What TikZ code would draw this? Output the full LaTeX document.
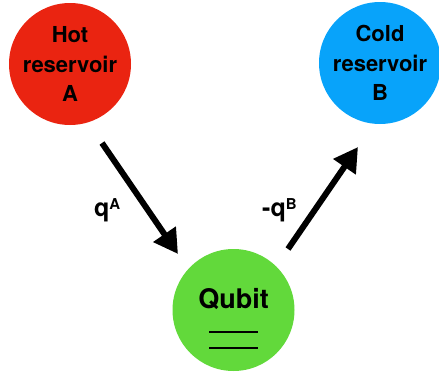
\documentclass[tikz,border=0pt]{standalone}
\usepackage{fontspec}
\setmainfont{TeX Gyre Heros}
\usetikzlibrary{arrows.meta}

\definecolor{hotred}{RGB}{234,36,17}
\definecolor{coldblue}{RGB}{8,163,250}
\definecolor{qubitgreen}{RGB}{98,217,59}

\newcommand{\supsc}[1]{\raisebox{7pt}{\fontsize{15}{15}\selectfont #1}}

\begin{document}
\begin{tikzpicture}[x=1pt,y=-1pt,
  reservoir/.style={circle,minimum size=122pt,inner sep=0pt,align=center,
    font=\fontsize{22}{29.5}\selectfont\bfseries},
  flow/.style={line width=6pt,-{Triangle[length=24pt,width=26pt]}},
  heat/.style={inner sep=0pt,font=\fontsize{25}{28}\selectfont\bfseries}]
\useasboundingbox (0,0) rectangle (439,372);

% reservoirs and qubit
\node[reservoir,fill=hotred] (hot) at (70,64) {Hot\\reservoir\\A};
\node[reservoir,fill=coldblue] (cold) at (380,63) {Cold\\reservoir\\B};
\node[reservoir,fill=qubitgreen] (qubit) at (233.5,310) {};
\node[anchor=base,inner sep=0pt,font=\fontsize{27}{30}\selectfont\bfseries]
  (qubitname) at (233.5,308) {Qubit};

% energy levels
\begin{scope}[every path/.style={line width=2.5pt}]
\coordinate (gl) at (209,348);
\coordinate (el) at (209,332);
\draw (gl) -- ++(49,0);
\draw (el) -- ++(49,0);
\end{scope}

% heat flows
\coordinate (ina) at (102,143);
\coordinate (inb) at (178,254);
\coordinate (outa) at (288,249);
\coordinate (outb) at (358,147);
\draw[flow] (ina) -- (inb);
\draw[flow] (outa) -- (outb);
\node[heat,anchor=base west] (qa) at (94,216) {q\supsc{A}};
\node[heat,anchor=base west] (qb) at (262,216) {-q\supsc{B}};
\end{tikzpicture}
\end{document}
